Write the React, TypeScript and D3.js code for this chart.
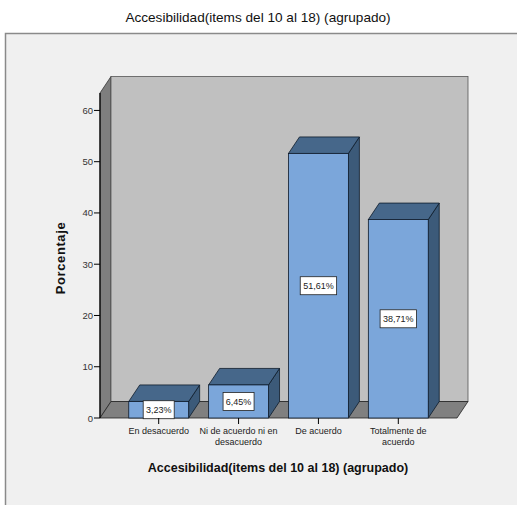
import React from "react";
import * as d3 from "d3";

const categories: string[][] = [
  ["En desacuerdo"],
  ["Ni de acuerdo ni en", "desacuerdo"],
  ["De acuerdo"],
  ["Totalmente de", "acuerdo"],
];
const values: number[] = [3.23, 6.45, 51.61, 38.71];
const valueLabels: string[] = ["3,23%", "6,45%", "51,61%", "38,71%"];
const yTicks: number[] = [0, 10, 20, 30, 40, 50, 60];
const title = "Accesibilidad(items del 10 al 18) (agrupado)";
const xTitle = "Accesibilidad(items del 10 al 18) (agrupado)";
const yTitle = "Porcentaje";

const W = 517;
const H = 505;
const DX = 11;
const DY = -16.5;
const FONT = "'Liberation Sans', Arial, sans-serif";

export default function App() {
  const x = d3
    .scaleBand<number>()
    .domain(d3.range(values.length))
    .range([100, 457])
    .paddingInner(0.25)
    .paddingOuter(0.36);
  const y = d3.scaleLinear().domain([0, 63.4]).range([418, 93]);
  const y0 = y(0);
  const yTop = y(63.4);
  const xL = x.range()[0];
  const xR = x.range()[1];

  const front = "#7ba6da";
  const topC = "#46678a";
  const side = "#3c5a79";
  const stroke = "#0d1a2a";

  return (
    <svg
      width={W}
      height={H}
      style={{ position: "absolute", left: 0, top: 0, background: "#ffffff" }}
      fontFamily={FONT}
    >
      <rect x={0} y={0} width={W} height={H} fill="#ffffff" />
      <rect x={5.5} y={33.5} width={W + 10} height={H} fill="#f0f0f0" stroke="#8a8a8a" strokeWidth={1.5} />
      <text x={258} y={22} textAnchor="middle" fontSize={13.6} fill="#111">
        {title}
      </text>

      {/* left wall */}
      <polygon
        points={`${xL},${y0} ${xL},${yTop} ${xL + DX},${yTop + DY} ${xL + DX},${y0 + DY}`}
        fill="#7e7e7e"
        stroke="#333"
        strokeWidth={0.8}
      />
      {/* back wall */}
      <rect
        x={xL + DX}
        y={yTop + DY}
        width={xR - xL}
        height={y0 - yTop}
        fill="#c0c0c0"
        stroke="#555"
        strokeWidth={0.8}
      />
      {/* floor */}
      <polygon
        points={`${xL},${y0} ${xL + DX},${y0 + DY} ${xR + DX},${y0 + DY} ${xR},${y0}`}
        fill="#808080"
        stroke="#222"
        strokeWidth={0.8}
      />
      {/* front axis line */}
      <line x1={xL} x2={xL} y1={yTop} y2={y0} stroke="#000" strokeWidth={1.2} />

      {/* y ticks */}
      {yTicks.map((t) => (
        <g key={t}>
          <line x1={xL - 6} x2={xL} y1={y(t)} y2={y(t)} stroke="#000" strokeWidth={1} />
          <text x={xL - 7} y={y(t) + 3.5} textAnchor="end" fontSize={9.5} fill="#333">
            {t}
          </text>
        </g>
      ))}

      {/* bars */}
      {values.map((v, i) => {
        const x0 = x(i)!;
        const x1 = x0 + x.bandwidth();
        const yt = y(v);
        const cx = x0 + x.bandwidth() / 2;
        const cy = (yt + y0) / 2;
        const lbl = valueLabels[i];
        const bw = lbl.length * 5.4 + 4;
        return (
          <g key={i}>
            <polygon
              points={`${x1},${yt} ${x1 + DX},${yt + DY} ${x1 + DX},${y0 + DY} ${x1},${y0}`}
              fill={side}
              stroke={stroke}
              strokeWidth={0.8}
            />
            <polygon
              points={`${x0},${yt} ${x0 + DX},${yt + DY} ${x1 + DX},${yt + DY} ${x1},${yt}`}
              fill={topC}
              stroke={stroke}
              strokeWidth={0.8}
            />
            <rect x={x0} y={yt} width={x1 - x0} height={y0 - yt} fill={front} stroke={stroke} strokeWidth={0.8} />
            <rect x={cx - bw / 2} y={cy - 9} width={bw} height={18} fill="#ffffff" stroke="#222" strokeWidth={0.8} />
            <text x={cx} y={cy + 3.5} textAnchor="middle" fontSize={9} fill="#222">
              {lbl}
            </text>
          </g>
        );
      })}

      {/* category ticks and labels */}
      {categories.map((lines, i) => {
        const cx = x(i)! + x.bandwidth() / 2;
        return (
          <g key={i}>
            <line x1={cx} x2={cx} y1={y0} y2={y0 + 6} stroke="#000" strokeWidth={1} />
            {lines.map((l, j) => (
              <text key={j} x={cx} y={434 + j * 11} textAnchor="middle" fontSize={9} fill="#222">
                {l}
              </text>
            ))}
          </g>
        );
      })}

      <text x={278} y={472} textAnchor="middle" fontSize={12.5} fontWeight="bold" fill="#111">
        {xTitle}
      </text>
      <text
        transform={`translate(65,258) rotate(-90)`}
        textAnchor="middle"
        fontSize={13}
        fontWeight="bold"
        letterSpacing={0.6}
        fill="#111"
      >
        {yTitle}
      </text>
    </svg>
  );
}
